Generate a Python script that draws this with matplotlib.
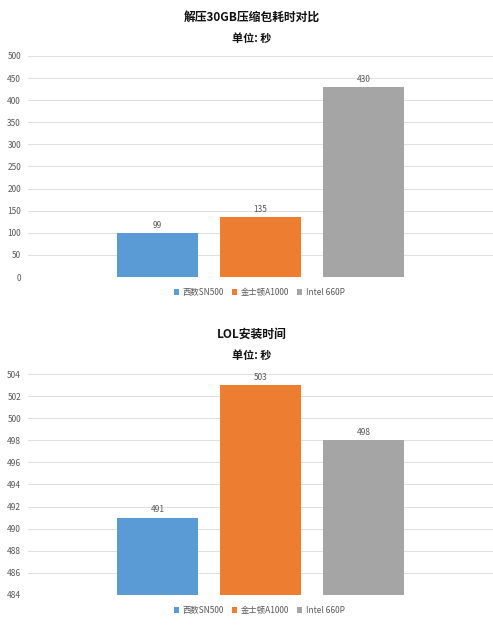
import matplotlib.pyplot as plt

plt.rcParams['font.family'] = ['Noto Sans CJK SC', 'DejaVu Sans']

drives = ['西数SN500', '金士顿A1000', 'Intel 660P']
colors = ['#5B9BD5', '#ED7D31', '#A5A5A5']

unzip_times = [99, 135, 430]
lol_times = [491, 503, 498]

TEXT_C = '#595959'
GRID_C = '#E0E0E0'

fig = plt.figure(figsize=(4.93, 6.29), dpi=100)


def draw(ax, values, ylim, step, legend_y):
    for i, (name, v, c) in enumerate(zip(drives, values, colors)):
        x = i - 1
        ax.bar(x, v, width=0.79, color=c, label=name, zorder=2)
        ax.text(x, v + (ylim[1] - ylim[0]) * 0.015, str(v), ha='center', va='bottom',
                fontsize=6, color=TEXT_C)
    ax.set_xlim(-2.26, 2.26)
    ax.set_ylim(*ylim)
    ax.set_yticks(range(ylim[0], ylim[1] + 1, step))
    ax.set_xticks([])
    ax.grid(axis='y', color=GRID_C, linewidth=0.7, zorder=0)
    for s in ax.spines.values():
        s.set_visible(False)
    ax.tick_params(axis='y', length=0, labelsize=6, labelcolor=TEXT_C, pad=5)
    ax.legend(loc='center', bbox_to_anchor=(0.497, legend_y), ncol=3, frameon=False,
              fontsize=6, labelcolor=TEXT_C, handlelength=0.6, handleheight=0.6,
              handletextpad=0.5, columnspacing=0.9)


ax1 = fig.add_axes([0.0568, 0.5596, 0.9432, 0.3514])
draw(ax1, unzip_times, (0, 500), 50, -0.07)
fig.text(0.511, 0.972, '解压30GB压缩包耗时对比', ha='center', va='center',
         fontsize=8.5, fontweight='heavy', color='#111111')
fig.text(0.511, 0.938, '单位: 秒', ha='center', va='center',
         fontsize=8, fontweight='heavy', color='#111111')

ax2 = fig.add_axes([0.0568, 0.0541, 0.9432, 0.3513])
draw(ax2, lol_times, (484, 504), 2, -0.07)
fig.text(0.511, 0.469, 'LOL安装时间', ha='center', va='center',
         fontsize=8.5, fontweight='heavy', color='#111111')
fig.text(0.511, 0.435, '单位: 秒', ha='center', va='center',
         fontsize=8, fontweight='heavy', color='#111111')

fig.savefig('out.png', dpi=100, facecolor='white')
